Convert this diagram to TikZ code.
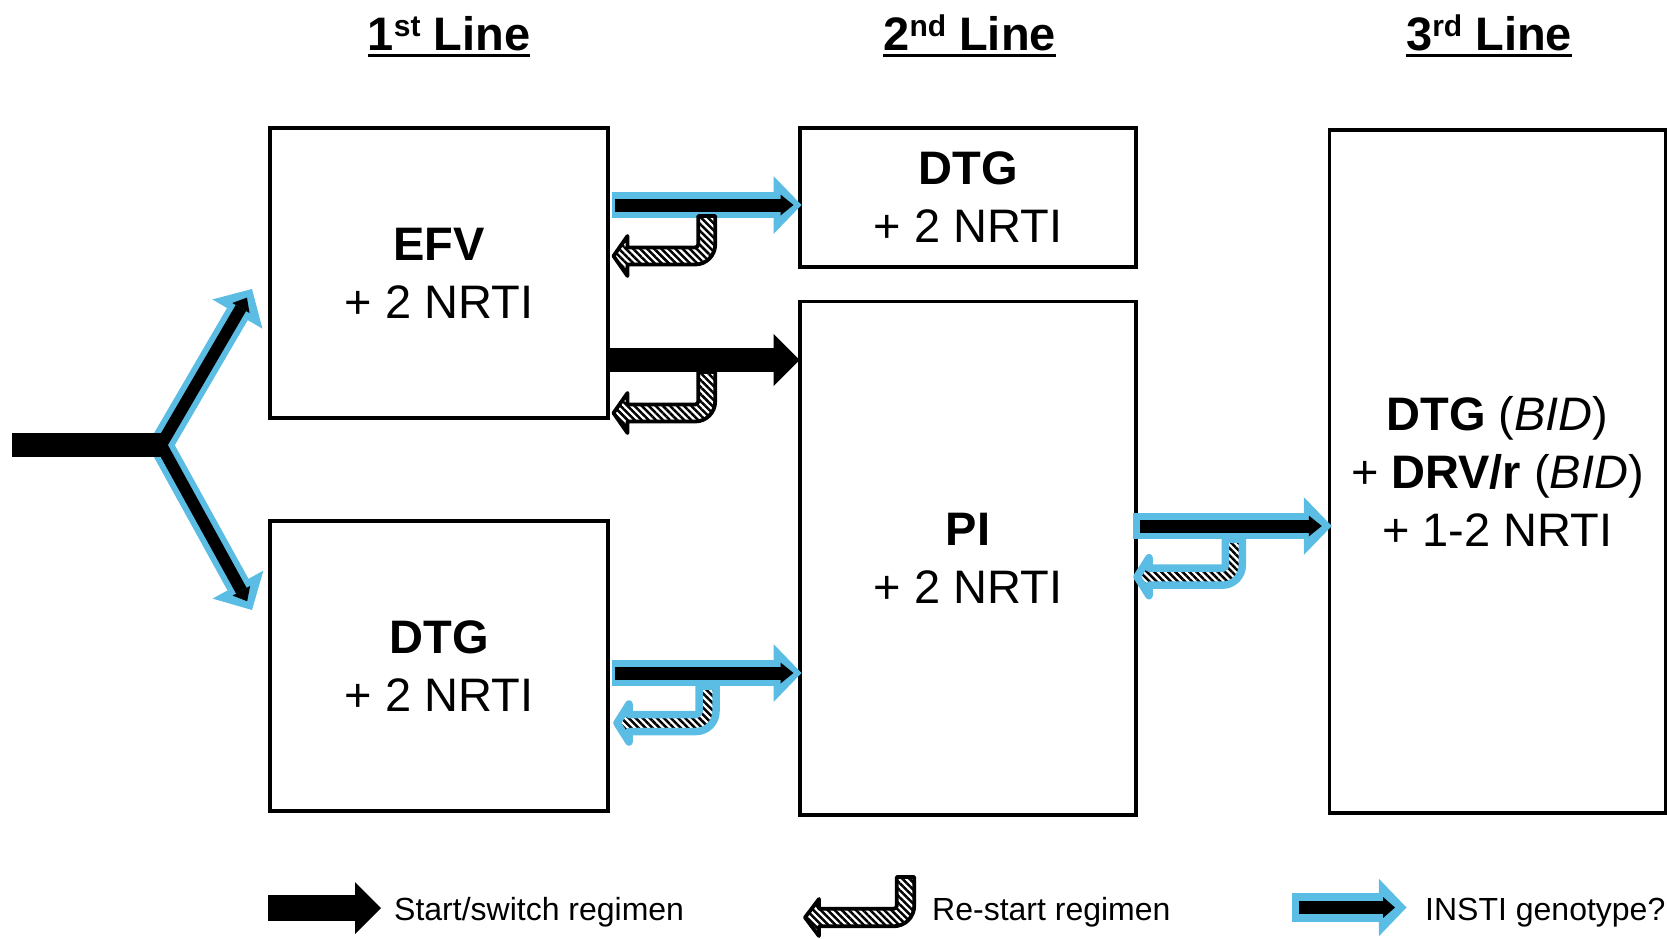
\documentclass[tikz,border=0pt]{standalone}
\usepackage{fontspec}
\setmainfont{Liberation Sans}
\usetikzlibrary{arrows.meta,patterns.meta}
\definecolor{instiblue}{RGB}{91,189,228}
% #1 style, #2 stem centre x, #3 half width, #4 top y, #5 arm centre y, #6 tip x, #7 head length, #8 head half height
\newcommand{\restartarrow}[8]{%
 \path[#1] ({#2-#3},#4)
 -- ({#2-#3},{#5-#3-3})
 .. controls ({#2-#3},{#5-#3-1.35}) and ({#2-#3-1.35},{#5-#3}) .. ({#2-#3-3},{#5-#3})
 -- ({#6+#7},{#5-#3})
 -- ({#6+#7},{#5-#8})
 -- (#6,#5)
 -- ({#6+#7},{#5+#8})
 -- ({#6+#7},{#5+#3})
 -- ({#2-#3-3},{#5+#3})
 .. controls ({#2-#3-3+0.552*(2*#3+3)},{#5+#3}) and ({#2+#3},{#5-#3-3+0.552*(2*#3+3)}) .. ({#2+#3},{#5-#3-3})
 -- ({#2+#3},#4) -- cycle;}
\begin{document}
\begin{tikzpicture}[x=1pt,y=-1pt,
  box/.style={draw, line width=3.5pt, align=center, inner sep=0pt, font=\fontsize{47}{58}\selectfont},
  hdr/.style={font=\fontsize{47}{56}\selectfont\bfseries, inner sep=0pt, anchor=base},
  ul/.style={line width=3.5pt},
  leg/.style={font=\fontsize{32}{38}\selectfont, inner sep=0pt, anchor=base west},
  instiouter/.style={instiblue, line width=26.7pt, -{Triangle[length=28pt,width=58pt,line width=0pt]}},
  instiinner/.style={black, line width=13pt, -{Triangle[length=13pt,width=21pt,line width=0pt]}},
  startarrow/.style={black, line width=24pt, -{Triangle[length=26pt,width=52pt,line width=0pt]}},
  hatchfill/.style={preaction={fill=white}, pattern={Lines[angle=-45,distance=5pt,line width=2.5pt]}, pattern color=black, line join=round},
  restartblack/.style={hatchfill, draw=black, line width=3.8pt},
  restartblue/.style={hatchfill, draw=instiblue, line width=7.5pt}
]
\useasboundingbox (0,0) rectangle (1667,938);

% headers
\node[hdr] (h1) at (449,50) {1\raisebox{14pt}{\fontsize{30}{30}\selectfont st} Line};
\node[hdr] (h2) at (969.6,50) {2\raisebox{14pt}{\fontsize{30}{30}\selectfont nd} Line};
\node[hdr] (h3) at (1489,50) {3\raisebox{14pt}{\fontsize{30}{30}\selectfont rd} Line};
\draw[ul] ([yshift=-5.3pt]h1.base west) -- ([yshift=-5.3pt]h1.base east);
\draw[ul] ([yshift=-5.3pt]h2.base west) -- ([yshift=-5.3pt]h2.base east);
\draw[ul] ([yshift=-5.3pt]h3.base west) -- ([yshift=-5.3pt]h3.base east);

% boxes
\node[box, minimum width=338pt, minimum height=290pt] (efv) at (439,273) {\textbf{EFV}\\+ 2 NRTI};
\node[box, minimum width=338pt, minimum height=290pt] (dtg1) at (439,666) {\textbf{DTG}\\+ 2 NRTI};
\node[box, minimum width=336pt, minimum height=139pt] (dtg2) at (968,197.5) {\textbf{DTG}\\+ 2 NRTI};
\node[box, minimum width=336pt, minimum height=513.5pt] (pi) at (968,558.25) {\textbf{PI}\\+ 2 NRTI};
\node[box, minimum width=336pt, minimum height=683pt] (third) at (1497.5,471.5)
  {\textbf{DTG} (\textit{BID})\\+ \textbf{DRV/r} (\textit{BID})\\+ 1-2 NRTI};

% fork on the left
\coordinate (fstart) at (12,445);
\coordinate (fk) at (161,445);
\coordinate (fend) at (166,445);
\coordinate (fup) at (252,289);
\coordinate (fdn) at (252,610);
\draw[instiblue, line width=24pt, line join=miter,
  {Triangle[length=29pt,width=58pt,line width=0pt]}-{Triangle[length=29pt,width=58pt,line width=0pt]}]
  (fup) -- (fk) -- (fdn);
\draw[black, line width=12pt, line join=miter, xshift=3pt, shorten <=10pt, shorten >=10pt,
  {Triangle[length=12pt,width=20pt,line width=0pt]}-{Triangle[length=12pt,width=20pt,line width=0pt]}]
  (fup) -- (fk) -- (fdn);
\draw[black, line width=24.5pt] (fstart) -- (fend);

% first line -> second line
\draw[instiouter, shorten <=2pt, shorten >=-3.25pt] (efv.east |- 0,205) -- (dtg2.west |- 0,205);
\draw[startarrow, shorten >=-1.25pt] (efv.east |- 0,360) -- (pi.west |- 0,360);
\draw[instiouter, shorten <=2pt, shorten >=-3.25pt] (dtg1.east |- 0,673) -- (pi.west |- 0,673);
\draw[instiouter, shorten <=-5pt, shorten >=-4pt] (pi.east |- 0,526) -- (third.west |- 0,526);

% re-start arrows
\restartarrow{restartblack}{706.7}{8.5}{216}{256}{613.5}{14}{20}
\restartarrow{restartblack}{706.7}{8.5}{372}{413}{613.5}{14}{20}
\restartarrow{restartblue}{707.5}{8.5}{686}{723}{617}{12}{19}
\restartarrow{restartblue}{1233.8}{8.5}{539}{576.7}{1137}{12}{19}

% inner black arrows of INSTI arrows
\draw[instiinner, shorten <=5.25pt, shorten >=4.75pt] (efv.east |- 0,205) -- (dtg2.west |- 0,205);
\draw[instiinner, shorten <=5.25pt, shorten >=4.75pt] (dtg1.east |- 0,673) -- (pi.west |- 0,673);
\draw[instiinner, shorten <=2.25pt, shorten >=6pt] (pi.east |- 0,526) -- (third.west |- 0,526);

% legend
\coordinate (la1) at (268,908);
\coordinate (la2) at (381,908);
\draw[black, line width=26pt, -{Triangle[length=26pt,width=52pt,line width=0pt]}] (la1) -- (la2);
\node[leg] (lt1) at (394,920) {Start/switch regimen};
\restartarrow{restartblack}{905.5}{8.75}{877}{917.5}{805}{14}{18.5}
\node[leg] (lt2) at (932,920) {Re-start regimen};
\coordinate (lb1) at (1292,907.5);
\coordinate (lb2) at (1406.5,907.5);
\coordinate (lc1) at (1299,907.5);
\coordinate (lc2) at (1395,907.5);
\draw[instiblue, line width=28.7pt, -{Triangle[length=27.6pt,width=57.4pt,line width=0pt]}] (lb1) -- (lb2);
\draw[black, line width=12.8pt, -{Triangle[length=12pt,width=21pt,line width=0pt]}] (lc1) -- (lc2);
\node[leg] (lt3) at (1425,920) {INSTI genotype?};
\end{tikzpicture}
\end{document}
